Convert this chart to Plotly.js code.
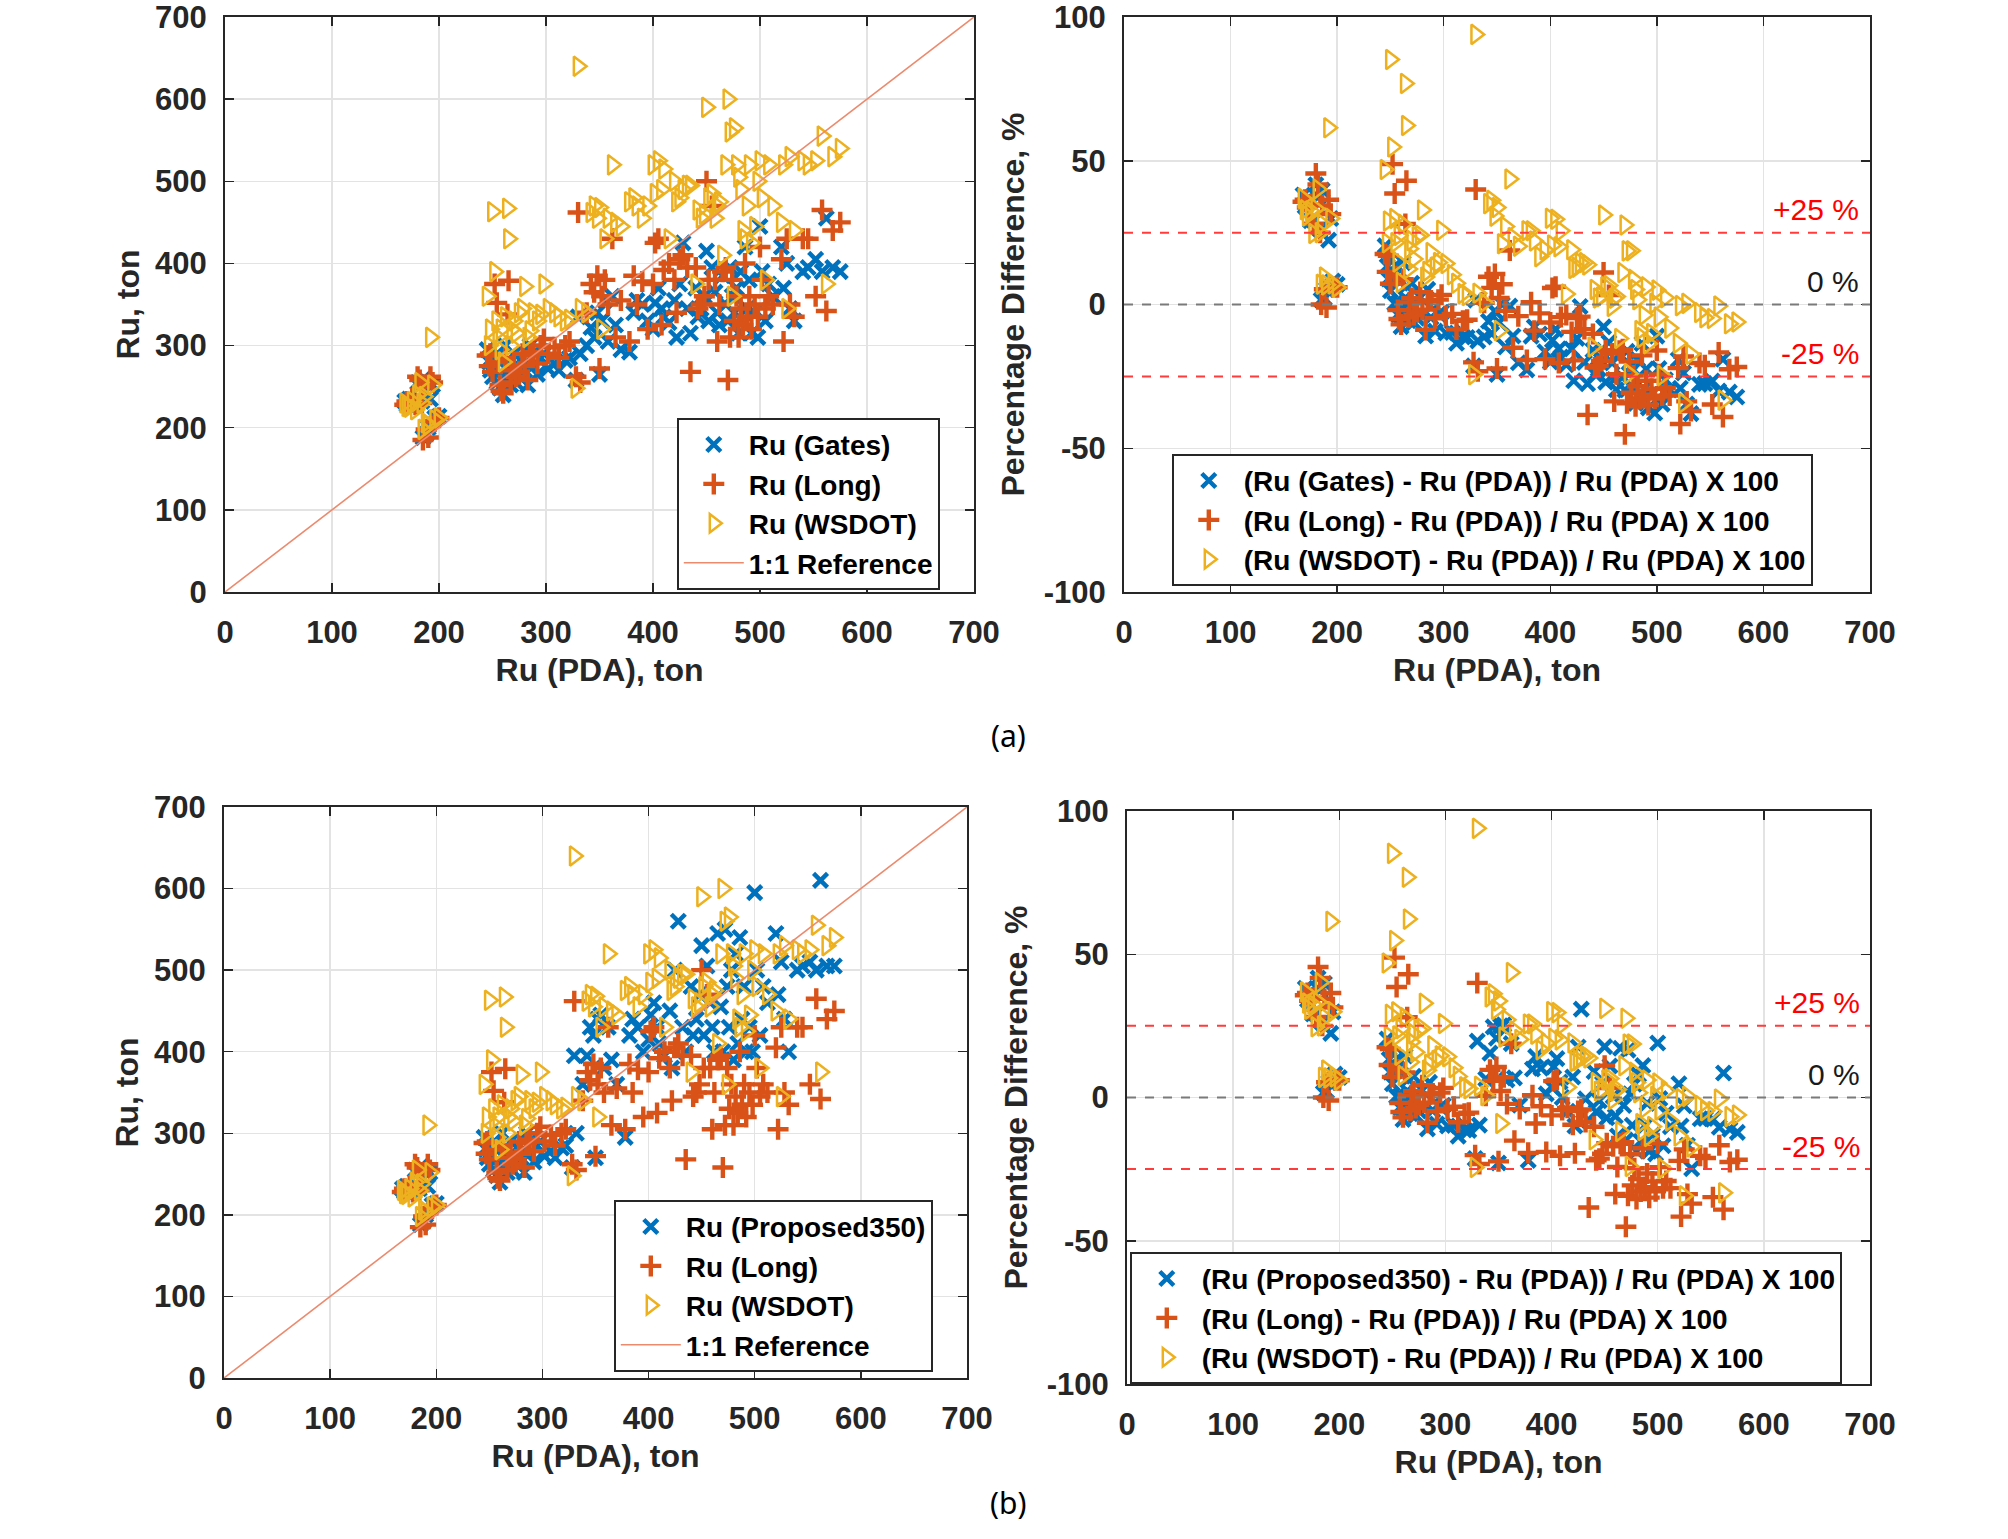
<!DOCTYPE html>
<html>
<head>
<meta charset="utf-8">
<script src="https://cdn.plot.ly/plotly-3.0.1.min.js"></script>
<style>html,body{margin:0;padding:0;background:#fff;}#chart{width:2008px;height:1539px;}</style>
</head>
<body>
<div id="chart"></div>
<script>
// ---------------- DATA ----------------
const pda = [168,170,172,175,178,180,182,184,186,188,190,192,185,196,200,194,
245,247,248,250,252,254,255,257,258,260,262,264,265,267,268,270,272,275,278,280,283,285,288,292,295,298,
302,308,312,318,322,
328,330,332,338,342,345,348,350,352,355,358,362,365,370,378,
382,385,390,395,400,402,405,408,410,415,
420,422,425,428,432,435,440,442,445,448,
450,452,455,458,460,462,465,468,470,472,
474,476,478,480,482,484,486,488,490,492,
495,498,500,502,505,508,512,520,522,525,
528,532,540,545,552,558,562,568,575];

const ruGates = [232,228,235,226,230,255,250,232,260,192,200,235,188,212,214,252,
295,280,270,262,275,255,290,248,260,240,300,270,282,252,265,290,255,262,285,270,252,300,275,265,285,290,
272,278,270,282,285,
258,335,290,300,322,310,340,265,330,355,305,360,325,295,292,
340,355,350,330,320,352,370,345,335,328,
355,310,375,425,345,315,370,335,345,360,
415,330,395,365,340,325,385,350,330,395,
360,340,370,315,390,330,420,345,380,315,
340,310,445,390,330,375,360,420,370,400,
345,330,390,395,405,390,455,395,390];

const ruProposed350 = [232,228,235,226,230,255,250,232,260,192,200,235,188,212,214,252,
295,280,270,262,275,255,290,248,260,240,300,270,282,252,265,290,255,262,285,270,252,300,275,265,285,290,
272,278,270,282,285,
258,395,300,360,395,430,420,270,440,445,380,430,390,360,295,
420,440,430,400,415,445,460,430,410,395,
450,380,500,560,430,400,480,420,440,470,
530,420,505,460,430,400,545,455,400,550,
480,430,500,390,520,410,540,440,480,400,
430,400,595,500,420,480,460,545,470,510,
440,400,500,505,510,500,610,505,505];

const ruLong = [228,232,230,236,228,262,258,230,250,198,188,262,185,208,212,255,
288,275,290,268,375,352,280,252,245,242,285,338,379,255,270,276,262,268,290,275,258,288,292,278,300,308,
290,298,285,300,305,
262,462,255,340,375,365,385,272,360,380,350,430,310,355,305,
385,350,378,320,375,425,430,325,392,400,
380,340,405,410,395,268,395,345,350,360,
500,380,470,380,305,350,390,395,258,310,
380,330,360,310,345,325,400,335,360,320,
350,335,420,380,345,360,350,405,305,430,
350,335,430,430,360,465,342,440,450];

const ruWSDOT = [230,226,225,232,222,240,255,230,238,206,203,310,198,210,212,252,
360,300,320,463,390,330,310,295,320,280,335,467,430,300,320,330,315,340,345,372,310,318,340,330,338,375,
345,340,335,330,332,
248,640,345,340,462,470,455,468,320,430,455,520,450,445,475,
480,470,455,470,520,485,525,490,515,430,
500,475,480,490,495,495,375,465,455,460,
590,480,485,455,470,475,410,520,600,560,
360,565,520,505,490,440,430,470,520,425,
445,500,525,480,380,520,470,450,520,345,
530,440,525,520,525,555,375,530,540];

const refLine = [0, 700];          // 1:1 reference line end points
const refLevels = [25, 0, -25];    // percentage reference levels
const refLabels = ['+25 %', '0 %', '-25 %'];
const pctTickVals = [-100, -50, 0, 50, 100];
const pctTickText = ['-100', '-50', '0', '50', '100'];

const namesA = ['Ru (Gates)', 'Ru (Long)', 'Ru (WSDOT)', '1:1 Reference'];
const namesB = ['Ru (Proposed350)', 'Ru (Long)', 'Ru (WSDOT)', '1:1 Reference'];
const pctNamesA = ['(Ru (Gates) - Ru (PDA)) / Ru (PDA) X 100',
                   '(Ru (Long) - Ru (PDA)) / Ru (PDA) X 100',
                   '(Ru (WSDOT) - Ru (PDA)) / Ru (PDA) X 100'];
const pctNamesB = ['(Ru (Proposed350) - Ru (PDA)) / Ru (PDA) X 100',
                   '(Ru (Long) - Ru (PDA)) / Ru (PDA) X 100',
                   '(Ru (WSDOT) - Ru (PDA)) / Ru (PDA) X 100'];

// percentage difference, as defined in the legend
const pct = arr => arr.map((v, i) => (v - pda[i]) / pda[i] * 100);

// ---------------- STYLE ----------------
const FONT = 'Liberation Sans';
const TXT = '#262626';
const BLUE = '#0072BD', ORANGE = '#D95319', YELLOW = '#EDB120', REF = '#EC8A6E';

const mk = {
  x:   c => ({symbol: 'x-thin-open', size: 14, color: c, line: {width: 4.4, color: c}}),
  plus:c => ({symbol: 'cross-thin-open', size: 15, color: c, line: {width: 4.4, color: c}}),
  tri: c => ({symbol: 'triangle-right-open', size: 17, color: c, line: {width: 2.5, color: c}})
};

function sc(x, y, name, marker, xa, ya, lg) {
  return {type: 'scatter', mode: 'markers', x, y, name, marker, xaxis: xa, yaxis: ya, legend: lg};
}

const traces = [
  sc(pda, ruGates, namesA[0], mk.x(BLUE), 'x', 'y', 'legend'),
  sc(pda, ruLong, namesA[1], mk.plus(ORANGE), 'x', 'y', 'legend'),
  sc(pda, ruWSDOT, namesA[2], mk.tri(YELLOW), 'x', 'y', 'legend'),
  {type: 'scatter', mode: 'lines', x: refLine, y: refLine, name: namesA[3], line: {color: REF, width: 1.6}, xaxis: 'x', yaxis: 'y', legend: 'legend'},

  sc(pda, pct(ruGates), pctNamesA[0], mk.x(BLUE), 'x2', 'y2', 'legend2'),
  sc(pda, pct(ruLong), pctNamesA[1], mk.plus(ORANGE), 'x2', 'y2', 'legend2'),
  sc(pda, pct(ruWSDOT), pctNamesA[2], mk.tri(YELLOW), 'x2', 'y2', 'legend2'),

  sc(pda, ruProposed350, namesB[0], mk.x(BLUE), 'x3', 'y3', 'legend3'),
  sc(pda, ruLong, namesB[1], mk.plus(ORANGE), 'x3', 'y3', 'legend3'),
  sc(pda, ruWSDOT, namesB[2], mk.tri(YELLOW), 'x3', 'y3', 'legend3'),
  {type: 'scatter', mode: 'lines', x: refLine, y: refLine, name: namesB[3], line: {color: REF, width: 1.6}, xaxis: 'x3', yaxis: 'y3', legend: 'legend3'},

  sc(pda, pct(ruProposed350), pctNamesB[0], mk.x(BLUE), 'x4', 'y4', 'legend4'),
  sc(pda, pct(ruLong), pctNamesB[1], mk.plus(ORANGE), 'x4', 'y4', 'legend4'),
  sc(pda, pct(ruWSDOT), pctNamesB[2], mk.tri(YELLOW), 'x4', 'y4', 'legend4')
];

const W = 2008, H = 1539;
const dx = (a, b) => [a / W, b / W];
const dy = (top, bottom) => [1 - bottom / H, 1 - top / H];

function axis(domain, range, dtick, anchor, title, standoff, tls, pctAxis) {
  const a = {
    domain, range, dtick, anchor, autorange: false,
    showline: true, mirror: 'ticks', linecolor: TXT, linewidth: 2,
    ticks: 'inside', ticklen: 9, tickwidth: 1.5, tickcolor: TXT,
    showgrid: true, gridcolor: '#E3E3E3', gridwidth: 1.5, zeroline: false,
    tickfont: {family: FONT, size: 31, color: TXT, weight: 'bold'},
    ticklabelstandoff: tls, ticklabeloverflow: 'allow',
    title: {text: title, font: {family: FONT, size: 32, color: TXT, weight: 'bold'}, standoff}
  };
  if (pctAxis) { a.tickmode = 'array'; a.tickvals = pctTickVals; a.ticktext = pctTickText; }
  return a;
}

function legendBox(xpx, ypx) {
  return {
    x: xpx / W, y: 1 - ypx / H, xanchor: 'left', yanchor: 'top',
    bgcolor: '#FFFFFF', bordercolor: TXT, borderwidth: 1.8,
    font: {family: FONT, size: 28, color: '#000', weight: 'bold'},
    itemwidth: 60, tracegroupgap: 0
  };
}

const shapes = [];
const annotations = [];
[['x2', 'y2'], ['x4', 'y4']].forEach(([xr, yr]) => {
  refLevels.forEach((lv, k) => {
    shapes.push({type: 'line', xref: xr, yref: yr, x0: 0, x1: 700, y0: lv, y1: lv, layer: 'above',
      line: {color: lv === 0 ? '#7A7A7A' : '#FF3B3B', width: 2, dash: 'dash'}});
    annotations.push({xref: xr, yref: yr, x: 692, y: lv + 8, text: refLabels[k], showarrow: false,
      xanchor: 'right', yanchor: 'middle',
      font: {family: FONT, size: 30, color: lv === 0 ? '#1A1A1A' : '#FF0000'}});
  });
});
annotations.push({xref: 'paper', yref: 'paper', x: 1008 / W, y: 1 - 735 / H, text: '(a)', showarrow: false,
  font: {family: 'Noto Sans, DejaVu Sans, sans-serif', size: 30, color: '#000'}});
annotations.push({xref: 'paper', yref: 'paper', x: 1008 / W, y: 1 - 1525 / H, text: '(b)', showarrow: false,
  font: {family: 'Noto Sans, DejaVu Sans, sans-serif', size: 30, color: '#000'}});

const layout = {
  width: W, height: H, margin: {l: 0, r: 0, t: 0, b: 0},
  paper_bgcolor: '#FFFFFF', plot_bgcolor: '#FFFFFF',
  showlegend: true,
  xaxis:  axis(dx(225, 974),  [0, 700], 100, 'y',  'Ru (PDA), ton', 9, 12),
  yaxis:  axis(dy(17, 592),   [0, 700], 100, 'x',  'Ru, ton', 6, 10),
  xaxis2: axis(dx(1124, 1870),[0, 700], 100, 'y2', 'Ru (PDA), ton', 9, 12),
  yaxis2: axis(dy(17, 592),   [-100, 100], 50, 'x2', 'Percentage Difference, %', 10, 10, true),
  xaxis3: axis(dx(224, 967),  [0, 700], 100, 'y3', 'Ru (PDA), ton', 9, 12),
  yaxis3: axis(dy(807, 1378), [0, 700], 100, 'x3', 'Ru, ton', 6, 10),
  xaxis4: axis(dx(1127, 1870),[0, 700], 100, 'y4', 'Ru (PDA), ton', 9, 12),
  yaxis4: axis(dy(811, 1384), [-100, 100], 50, 'x4', 'Percentage Difference, %', 10, 10, true),
  legend:  legendBox(677, 418),
  legend2: legendBox(1172, 454),
  legend3: legendBox(614, 1200),
  legend4: legendBox(1130, 1252),
  shapes, annotations
};

Plotly.newPlot('chart', traces, layout, {staticPlot: true, displayModeBar: false});
</script>
</body>
</html>
